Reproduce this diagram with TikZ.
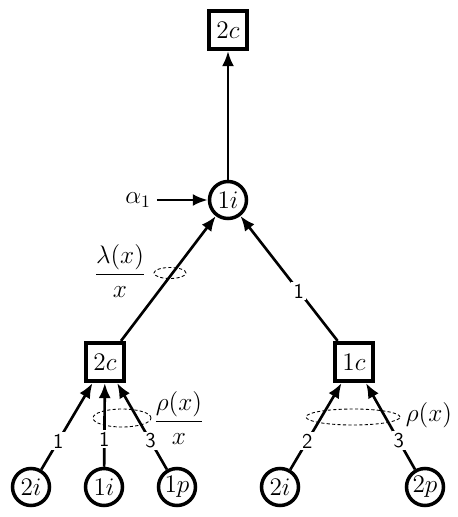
\documentclass[tikz,border=0pt]{standalone}
\usepackage{amsmath,amssymb}
\usepackage{tikz}
\usetikzlibrary{arrows.meta, positioning, calc}
\tikzset{
  varnode/.style={
    circle, draw, line width=2pt, minimum size=0.74cm, inner sep=0pt,
    fill=white, font=\Large
  },
  checknode/.style={
    rectangle, draw, line width=2.4pt, minimum size=0.76cm, inner sep=0pt,
    fill=white, font=\Large
  },
  edgearrow/.style={
    -{Latex[length=3mm, width=2.4mm]}, line width=1.5pt
  },
  edgelabel/.style={
    font=\sffamily\large, fill=white, inner sep=1.2pt
  },
  ringlabel/.style={
    font=\Large
  },
  degring/.style={
    line width=0.5pt, dash pattern=on 1.8pt off 1.3pt
  },
}

\begin{document}
\begin{tikzpicture}[x=0.02cm, y=-0.02cm]
  \useasboundingbox (0,0) rectangle (457,517);

  % Check and variable nodes
  \node[checknode] (topc) at (228,30) {$2c$};
  \node[varnode] (rooti) at (228,200) {$1i$};
  \node[checknode] (leftc) at (105,362) {$2c$};
  \node[checknode] (rightc) at (354,362) {$1c$};
  \node[varnode] (lefti) at (31,487) {$2i$};
  \node[varnode] (midi) at (104,487) {$1i$};
  \node[varnode] (leftp) at (177,487) {$1p$};
  \node[varnode] (righti) at (280,487) {$2i$};
  \node[varnode] (rightp) at (425,487) {$2p$};
  \node[ringlabel] (alpha) at (138,200) {$\alpha_1$};

  % Edges
  \draw[edgearrow] (rooti) -- (topc);
  \draw[edgearrow] (alpha) -- (rooti);
  \draw[edgearrow] (leftc) -- (rooti);
  \draw[edgearrow] (rightc) -- node[edgelabel, pos=0.4] {1} (rooti);
  \draw[edgearrow] (lefti) -- node[edgelabel, pos=0.33] {1} (leftc);
  \draw[edgearrow] (midi) -- node[edgelabel, pos=0.33] {1} (leftc);
  \draw[edgearrow] (leftp) -- node[edgelabel, pos=0.33] {3} (leftc);
  \draw[edgearrow] (righti) -- node[edgelabel, pos=0.33] {2} (rightc);
  \draw[edgearrow] (rightp) -- node[edgelabel, pos=0.33] {3} (rightc);

  % Degree rings
  \draw[degring] (170,273) ellipse [x radius=0.32cm, y radius=0.11cm];
  \node[ringlabel] (lamlabel) at (120,271) {$\dfrac{\lambda(x)}{x}$};
  \draw[degring] (122,418) ellipse [x radius=0.58cm, y radius=0.18cm];
  \node[ringlabel] (rholeft) at (179,418) {$\dfrac{\rho(x)}{x}$};
  \draw[degring] (353,417) ellipse [x radius=0.94cm, y radius=0.16cm];
  \node[ringlabel] (rhoright) at (429,415) {$\rho(x)$};
\end{tikzpicture}
\end{document}
